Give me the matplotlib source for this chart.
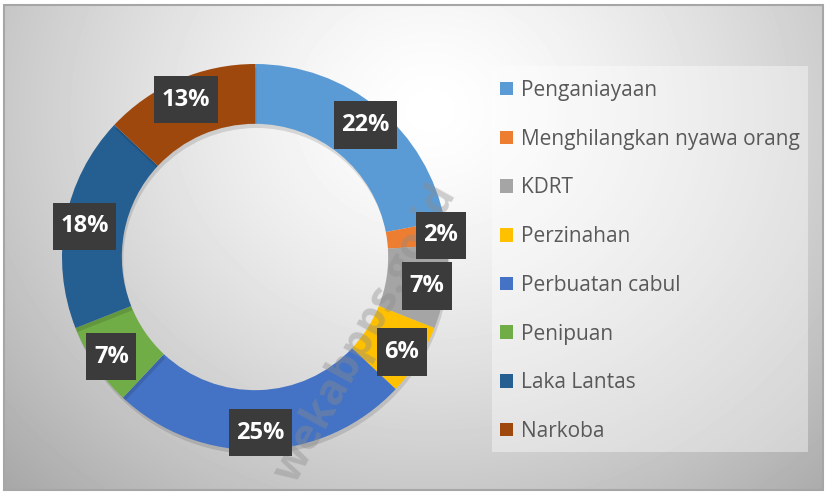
import matplotlib.pyplot as plt
import numpy as np
from matplotlib.patches import Rectangle
from matplotlib.path import Path
import matplotlib.patheffects as pe

# data
categories = ["Penganiayaan", "Menghilangkan nyawa orang", "KDRT", "Perzinahan",
              "Perbuatan cabul", "Penipuan", "Laka Lantas", "Narkoba"]
values = [22, 2, 7, 6, 25, 7, 18, 13]
colors = ["#5B9BD5", "#ED7D31", "#A5A5A5", "#FFC000",
          "#4472C4", "#70AD47", "#255E91", "#9E480E"]

W, H = 828, 493
fig = plt.figure(figsize=(W / 100, H / 100), dpi=100)
fig.patch.set_facecolor("white")

# background axes in pixel coords
bg = fig.add_axes([0, 0, 1, 1])
bg.set_xlim(0, W)
bg.set_ylim(H, 0)
bg.axis("off")

x0, y0, x1, y1 = 4, 5, 823, 490
yy, xx = np.mgrid[y0:y1, x0:x1]
d = np.sqrt(((xx - 430) / 450.0) ** 2 + ((yy - 110) / 400.0) ** 2)
grad = np.clip(1.0 - 0.23 * d ** 1.4, 0, 1)
bg.imshow(grad, cmap="gray", vmin=0, vmax=1, extent=(x0, x1, y1, y0), aspect="auto", zorder=0)
bg.add_patch(Rectangle((x0, y0), x1 - x0, y1 - y0, fill=False, ec="#a6a6a6", lw=1.5, zorder=1))

# legend panel
bg.add_patch(Rectangle((492, 66), 316, 386, fc="white", alpha=0.4, ec="none", zorder=1))

# donut
cx, cy, r = 255, 257, 193
ax = fig.add_axes([(cx - r) / W, (H - cy - r) / H, 2 * r / W, 2 * r / H])
ax.patch.set_alpha(0)

wedges, _ = ax.pie(values, colors=colors, startangle=90, counterclock=False,
                   radius=1.0, wedgeprops=dict(width=0.31, edgecolor="none"))
ax.set_xlim(-1, 1)
ax.set_ylim(-1, 1)
ax.set_aspect("auto")
ax.axis("off")
for w in wedges:
    w.set_path_effects([pe.SimplePatchShadow(offset=(1, -3), shadow_rgbFace="black", alpha=0.12),
                        pe.Normal()])

# watermark (below the labels)
ax.text(366 / W, 1 - 334 / H, "wekabpps.go.id", transform=fig.transFigure,
        rotation=61, ha="center", va="center",
        fontsize=31, fontweight="bold", family="Open Sans", color="#8c8c8c", alpha=0.4,
        zorder=4)


def label_box(x0, y0, width, height, mutation_size):
    px = 0.32 * mutation_size
    py = 0.5 * mutation_size
    return Path([(x0 - px, y0 - py), (x0 + width + px, y0 - py),
                 (x0 + width + px, y0 + height + py), (x0 - px, y0 + height + py),
                 (x0 - px, y0 - py)], closed=True)


# labels
total = sum(values)
start = 90.0
for v in values:
    ang = start - v / total * 180.0
    start -= v / total * 360.0
    rr = 0.9
    if v <= 2:
        rr = 0.97
    x = rr * np.cos(np.radians(ang))
    y = rr * np.sin(np.radians(ang)) - 0.01
    ax.text(x, y, f"{v}%", ha="center", va="center", color="white",
            fontsize=17, fontweight="bold", family="Open Sans",
            bbox=dict(boxstyle=label_box, fc="#3b3b3b", ec="none"),
            zorder=5)

# legend with plain proxy patches
handles = [Rectangle((0, 0), 1, 1, fc=c, ec="none") for c in colors]
fig.legend(handles, categories, loc="upper left", bbox_to_anchor=(500 / W, 1 - 80 / H),
           frameon=False, borderpad=0, borderaxespad=0,
           prop=dict(family="Open Sans", size=15), labelcolor="#595959",
           handlelength=0.62, handleheight=0.62, handletextpad=0.4, labelspacing=1.33)

fig.savefig("out.png", dpi=100)
